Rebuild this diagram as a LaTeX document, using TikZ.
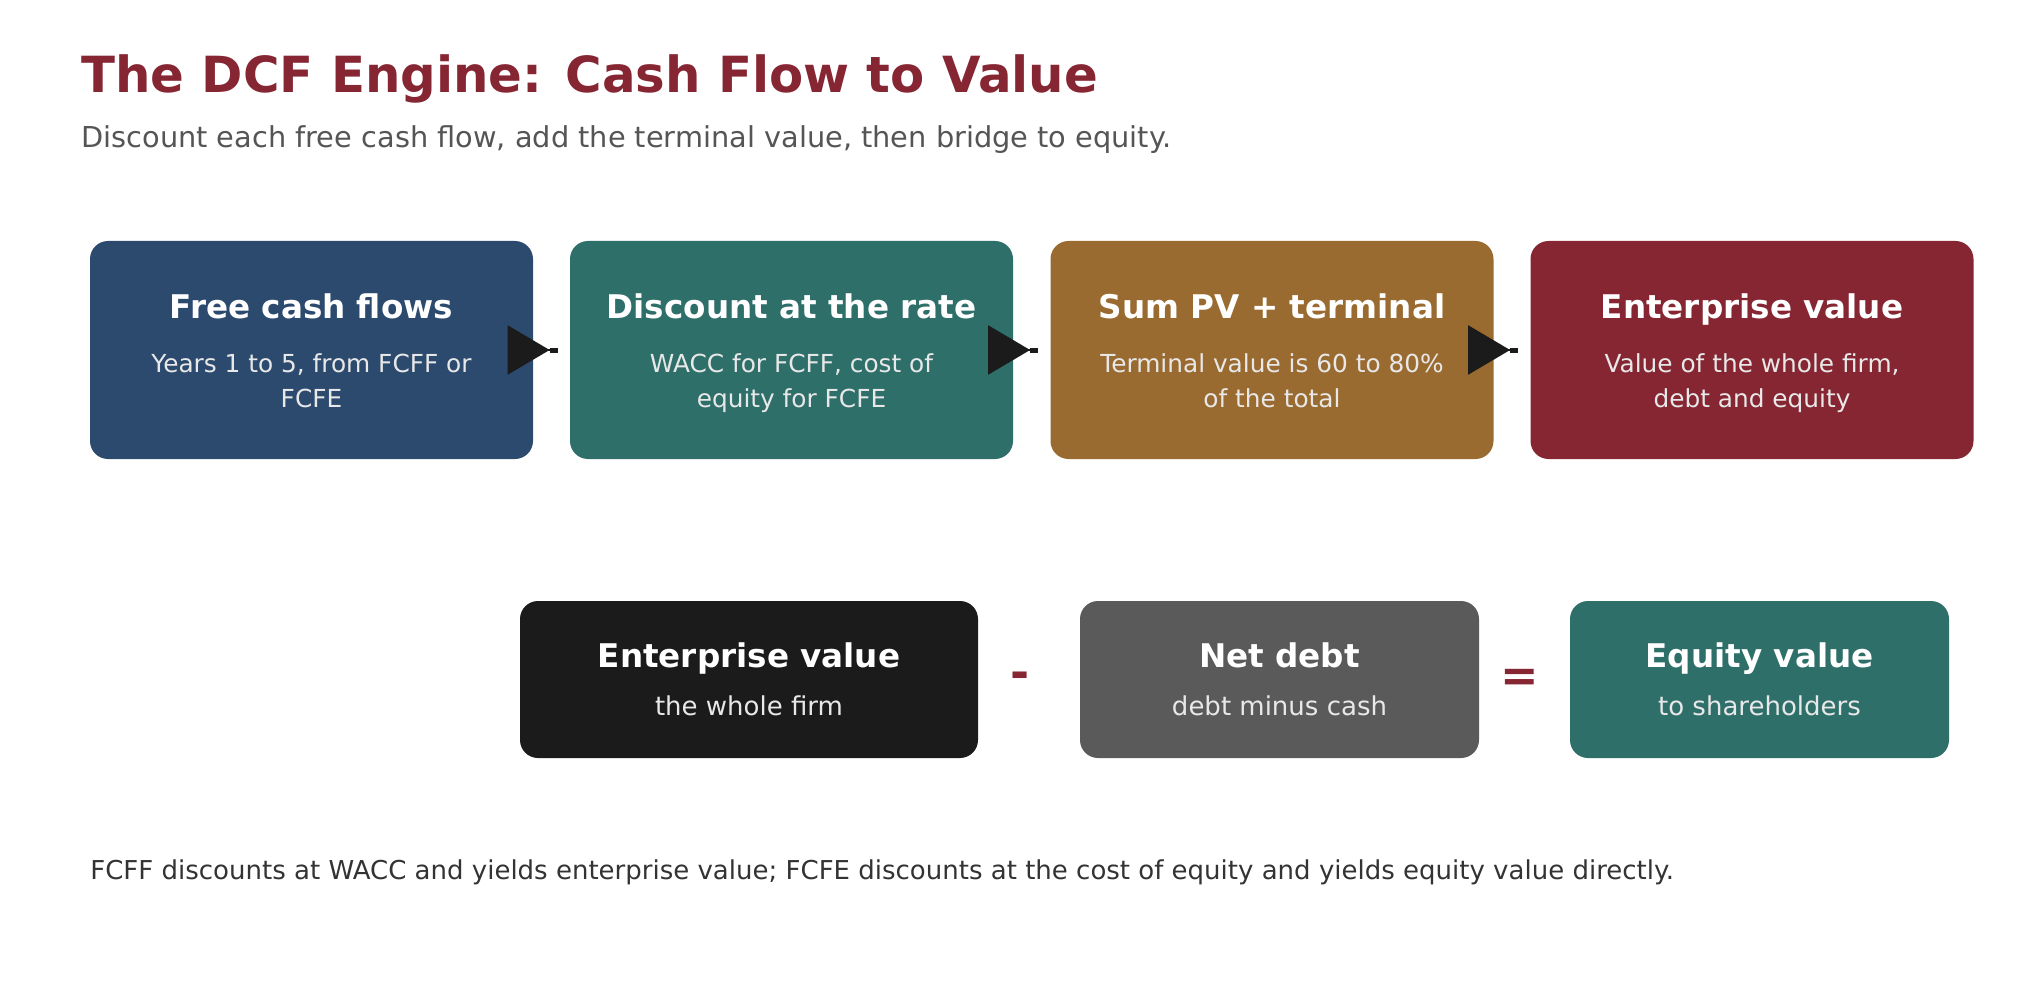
\documentclass[tikz,border=0pt]{standalone}
\usepackage{fontspec}
\setmainfont{DejaVu Sans}
\usetikzlibrary{arrows.meta}
\definecolor{maroon}{HTML}{862633}
\definecolor{navy}{HTML}{2C4A6E}
\definecolor{teal}{HTML}{2E6F6A}
\definecolor{ochre}{HTML}{9A6B30}
\definecolor{ink}{HTML}{1B1B1B}
\definecolor{slate}{HTML}{5A5A5A}
\definecolor{subgrey}{HTML}{555555}
\definecolor{notegrey}{HTML}{333333}
\definecolor{pale}{HTML}{E8E8E8}

\begin{document}
\begin{tikzpicture}[x=0.5pt,y=-0.5pt,line cap=round,line join=round,
  stage/.style={rounded corners=9pt,inner sep=0pt,minimum width=221.5pt,minimum height=109pt},
  part/.style={rounded corners=9pt,inner sep=0pt,minimum height=78.5pt},
  head/.style={text=white,inner sep=0pt,anchor=base,font=\bfseries\fontsize{16.3}{19}\selectfont},
  sub/.style={text=pale,inner sep=0pt,anchor=base,font=\fontsize{12.4}{15}\selectfont},
  subb/.style={sub,font=\fontsize{13}{15}\selectfont},
  oper/.style={text=maroon,inner sep=0pt,font=\bfseries\fontsize{23}{26}\selectfont},
  flow/.style={ink,line width=1.2pt,line cap=butt,-{Triangle[length=21pt,width=24.5pt]Rectangle[length=4pt,width=2.5pt]}}]
\useasboundingbox (0,0) rectangle (2040,1000);
% title
\node[anchor=base west,inner sep=0pt,text=maroon,font=\bfseries\fontsize{24.9}{30}\selectfont] (title) at (81,93) {The DCF Engine: Cash Flow to Value};
\node[anchor=base west,inner sep=0pt,text=subgrey,font=\fontsize{14.4}{17}\selectfont] (subtitle) at (81,148) {Discount each free cash flow, add the terminal value, then bridge to equity.};
% top row
\node[stage,fill=navy] (fcf) at (311.5,350) {};
\node[stage,fill=teal] (disc) at (791.5,350) {};
\node[stage,fill=ochre] (sum) at (1272,350) {};
\node[stage,fill=maroon] (ev) at (1752,350) {};
\node[head] (fcfh) at ([yshift=15.5pt]fcf.center) {Free cash flows};
\node[sub] (fcfa) at ([yshift=-11pt]fcf.center) {Years 1 to 5, from FCFF or};
\node[sub] (fcfb) at ([yshift=-28.5pt]fcf.center) {FCFE};
\node[head] (disch) at ([yshift=15.5pt]disc.center) {Discount at the rate};
\node[sub] (disca) at ([yshift=-11pt]disc.center) {WACC for FCFF, cost of};
\node[sub] (discb) at ([yshift=-28.5pt]disc.center) {equity for FCFE};
\node[head] (sumh) at ([yshift=15.5pt]sum.center) {Sum PV + terminal};
\node[sub] (suma) at ([yshift=-11pt]sum.center) {Terminal value is 60 to 80\%};
\node[sub] (sumb) at ([yshift=-28.5pt]sum.center) {of the total};
\node[head] (evh) at ([yshift=15.5pt]ev.center) {Enterprise value};
\node[sub] (eva) at ([yshift=-11pt]ev.center) {Value of the whole firm,};
\node[sub] (evb) at ([yshift=-28.5pt]ev.center) {debt and equity};
\draw[flow] (fcf.east) -- ([xshift=-6pt]disc.west);
\draw[flow] (disc.east) -- ([xshift=-6pt]sum.west);
\draw[flow] (sum.east) -- ([xshift=-6pt]ev.west);
% bridge
\node[part,fill=ink,minimum width=229pt] (evbox) at (749,679.5) {};
\node[part,fill=slate,minimum width=199.5pt] (debt) at (1279.5,679.5) {};
\node[part,fill=teal,minimum width=189.5pt] (eq) at (1759.5,679.5) {};
\node[head] (evboxh) at ([yshift=6.25pt]evbox.center) {Enterprise value};
\node[subb] (evboxs) at ([yshift=-17.75pt]evbox.center) {the whole firm};
\node[head] (debth) at ([yshift=6.25pt]debt.center) {Net debt};
\node[subb] (debts) at ([yshift=-17.75pt]debt.center) {debt minus cash};
\node[head] (eqh) at ([yshift=6.25pt]eq.center) {Equity value};
\node[subb] (eqs) at ([yshift=-17.75pt]eq.center) {to shareholders};
\node[oper] (minus) at (1020,680) {-};
\node[oper] (equals) at (1520,680) {=};
% note
\node[anchor=base west,inner sep=0pt,text=notegrey,font=\fontsize{13}{15}\selectfont] (note) at (90,879) {FCFF discounts at WACC and yields enterprise value; FCFE discounts at the cost of equity and yields equity value directly.};
\end{tikzpicture}
\end{document}
